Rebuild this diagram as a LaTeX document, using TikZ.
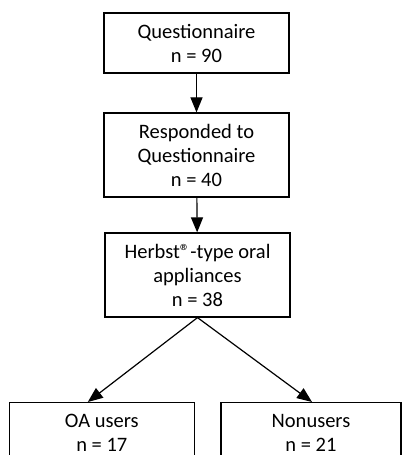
\documentclass[tikz,border=0pt]{standalone}
\usepackage{fontspec}
\setmainfont{Carlito}
\usetikzlibrary{arrows.meta, positioning}

\begin{document}
\begin{tikzpicture}[
                line join=miter,
                flowbox/.style={shape=rectangle, draw=black, line width=1.2pt, minimum width=185pt, align=center, inner sep=0pt, font=\fontsize{20.5}{24}\selectfont},
                flowarrow/.style={-{Triangle[length=15pt, width=12pt]}, line width=1.2pt}
                ]
                %% Frame
                \useasboundingbox (0pt, 0pt) rectangle (402pt, 455pt);
                \clip (0pt, 0pt) rectangle (402pt, 455pt);

                %% Boxes
                \node[flowbox, minimum height=60pt] (quest) at (196.5pt, 412pt) {Questionnaire\\n = 90};
                \node[flowbox, minimum height=84pt] (resp) at (196.5pt, 300pt) {Responded to\\Questionnaire\\n = 40};
                \node[flowbox, minimum height=84pt] (herbst) at (197.5pt, 180pt) {Herbst®-type oral\\appliances\\n = 38};

                        % Bottom boxes, cut by the frame
                \node[flowbox, minimum height=60pt, anchor=north] (oausers) at (101.8pt, 53pt) {OA users\\n = 17};
                \node[flowbox, minimum width=180pt, minimum height=60pt, anchor=north] (nonusers) at (311pt, 53pt) {Nonusers\\n = 21};

                %% Arrows
                \draw[flowarrow] (quest) -- (resp);
                \draw[flowarrow] (resp) -- (herbst);
                \draw[flowarrow] (herbst.south) -- ([xshift=-14pt]oausers.north);
                \draw[flowarrow] (herbst.south) -- ([xshift=1pt]nonusers.north);
\end{tikzpicture}
\end{document}
